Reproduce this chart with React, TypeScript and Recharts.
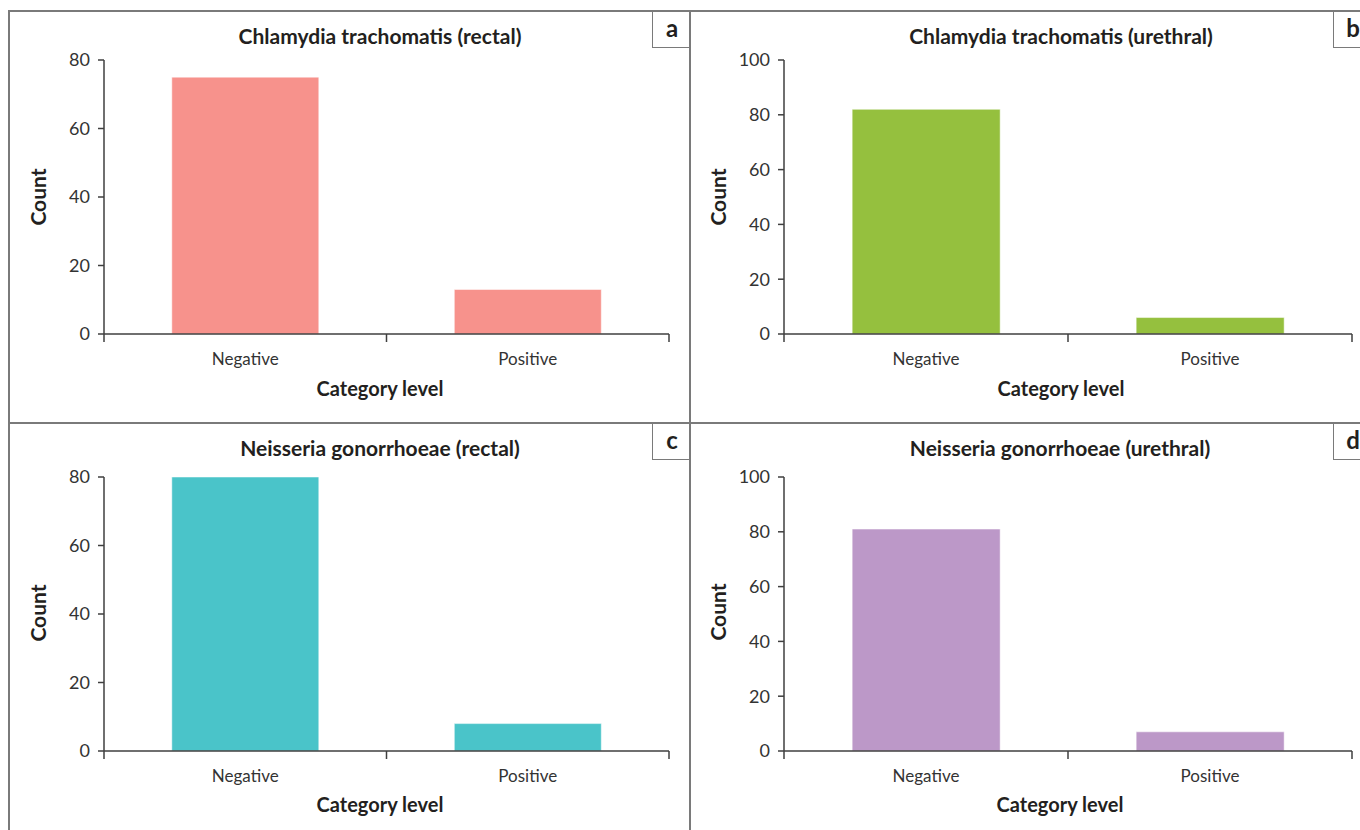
import React from 'react';
import { BarChart, Bar, XAxis, YAxis } from 'recharts';

const categories = ['Negative', 'Positive'];
const ctRectal = [75, 13];
const ctUrethral = [82, 6];
const ngRectal = [80, 8];
const ngUrethral = [81, 7];
const ticks80 = [0, 20, 40, 60, 80];
const ticks100 = [0, 20, 40, 60, 80, 100];

const FONT = 'Lato, "Open Sans", sans-serif';
const AXIS = '#3f3f3f';
const FRAME = '#7a7a7a';

// x ticks sit on the category edges, labels in the middle
const EdgeTick = (props: any) => {
  const { x, y, payload, index, visibleTicksCount } = props;
  const half = payload && payload.offset != null ? payload.offset : 141;
  const last = index === (visibleTicksCount ?? 2) - 1;
  return (
    <g>
      <line x1={x - half} x2={x - half} y1={y} y2={y + 8} stroke={AXIS} strokeWidth={1.5} />
      {last && <line x1={x + half} x2={x + half} y1={y} y2={y + 8} stroke={AXIS} strokeWidth={1.5} />}
      <text x={x} y={y + 19} dy="0.71em" textAnchor="middle" fontSize={17} fill="#333" fontFamily={FONT}>
        {payload.value}
      </text>
    </g>
  );
};

type PanelProps = {
  left: number;
  top: number;
  letter: string;
  title: string;
  values: number[];
  ticks: number[];
  color: string;
  plotTop: number;
  plotLeft: number;
  plotRight: number;
  titleX: number;
  titleY: number;
  xLabelY: number;
  countX: number;
  countY: number;
  boxLeft: number;
};

const Panel = (p: PanelProps) => {
  const data = categories.map((c, i) => ({ name: c, count: p.values[i] }));
  const mr = 10;
  const text = (x: number, y: number, s: string, size: number, rotate = false) => (
    <div
      style={{
        position: 'absolute',
        left: x,
        top: y,
        transform: `translate(-50%, -50%)${rotate ? ' rotate(-90deg)' : ''}`,
        fontFamily: FONT,
        fontWeight: 700,
        fontSize: size,
        color: '#231f20',
        whiteSpace: 'nowrap',
        lineHeight: 1,
      }}
    >
      {s}
    </div>
  );
  return (
    <div style={{ position: 'absolute', left: p.left, top: p.top, width: 690, height: 420 }}>
      <div style={{ position: 'absolute', left: 0, top: 0 }}>
        <BarChart
          width={p.plotRight + mr}
          height={p.plotTop + 274 + 60}
          data={data}
          margin={{ top: p.plotTop, right: mr, left: 0, bottom: 0 }}
          barCategoryGap="24%"
        >
          <XAxis
            dataKey="name"
            height={60}
            axisLine={{ stroke: AXIS, strokeWidth: 1.5 }}
            tickLine={false}
            tickSize={0}
            tickMargin={0}
            interval={0}
            tick={<EdgeTick />}
          />
          <YAxis
            width={p.plotLeft}
            domain={[0, p.ticks[p.ticks.length - 1]]}
            ticks={p.ticks}
            interval={0}
            axisLine={{ stroke: AXIS, strokeWidth: 1.5 }}
            tickLine={{ stroke: AXIS, strokeWidth: 1.5 }}
            tickSize={6}
            tickMargin={8}
            tick={{ fontSize: 18, fill: '#333', fontFamily: FONT }}
          />
          <Bar dataKey="count" fill={p.color} stroke="#ffffff" strokeOpacity={0.5} isAnimationActive={false} />
        </BarChart>
      </div>
      {text(p.titleX, p.titleY, p.title, 21)}
      {text(p.titleX, p.xLabelY, 'Category level', 20)}
      {text(p.countX, p.countY, 'Count', 21, true)}
      <div
        style={{
          position: 'absolute',
          left: p.boxLeft,
          top: 0,
          width: 38,
          height: 38,
          borderLeft: `1.5px solid ${FRAME}`,
          borderBottom: `1.5px solid ${FRAME}`,
          background: '#fff',
          boxSizing: 'border-box',
        }}
      >
        {text(19, 18, p.letter, 24)}
      </div>
    </div>
  );
};

const line = (x: number, y: number, w: number, h: number) => (
  <div style={{ position: 'absolute', left: x, top: y, width: w, height: h, background: FRAME }} />
);

export default function App() {
  return (
    <div
      style={{
        position: 'absolute',
        left: 0,
        top: 0,
        width: 1360,
        height: 830,
        overflow: 'hidden',
        background: '#fff',
      }}
    >
      <Panel
        left={8} top={10} letter="a" title="Chlamydia trachomatis (rectal)" values={ctRectal}
        ticks={ticks80} color="#F7928C" plotTop={50} plotLeft={96} plotRight={661}
        titleX={372} titleY={25} xLabelY={378} countX={29} countY={187} boxLeft={644}
      />
      <Panel
        left={690} top={10} letter="b" title="Chlamydia trachomatis (urethral)" values={ctUrethral}
        ticks={ticks100} color="#95C03E" plotTop={50} plotLeft={94} plotRight={662}
        titleX={371} titleY={25} xLabelY={378} countX={27} countY={187} boxLeft={643}
      />
      <Panel
        left={8} top={422} letter="c" title="Neisseria gonorrhoeae (rectal)" values={ngRectal}
        ticks={ticks80} color="#4AC4C9" plotTop={55} plotLeft={96} plotRight={661}
        titleX={372} titleY={25} xLabelY={382} countX={29} countY={191} boxLeft={644}
      />
      <Panel
        left={690} top={422} letter="d" title="Neisseria gonorrhoeae (urethral)" values={ngUrethral}
        ticks={ticks100} color="#BC98C8" plotTop={55} plotLeft={94} plotRight={662}
        titleX={370} titleY={25} xLabelY={382} countX={27} countY={190} boxLeft={643}
      />
      {line(8, 10, 1352, 1.5)}
      {line(8, 422, 1352, 1.5)}
      {line(8, 10, 1.5, 820)}
      {line(689, 10, 1.5, 820)}
    </div>
  );
}
